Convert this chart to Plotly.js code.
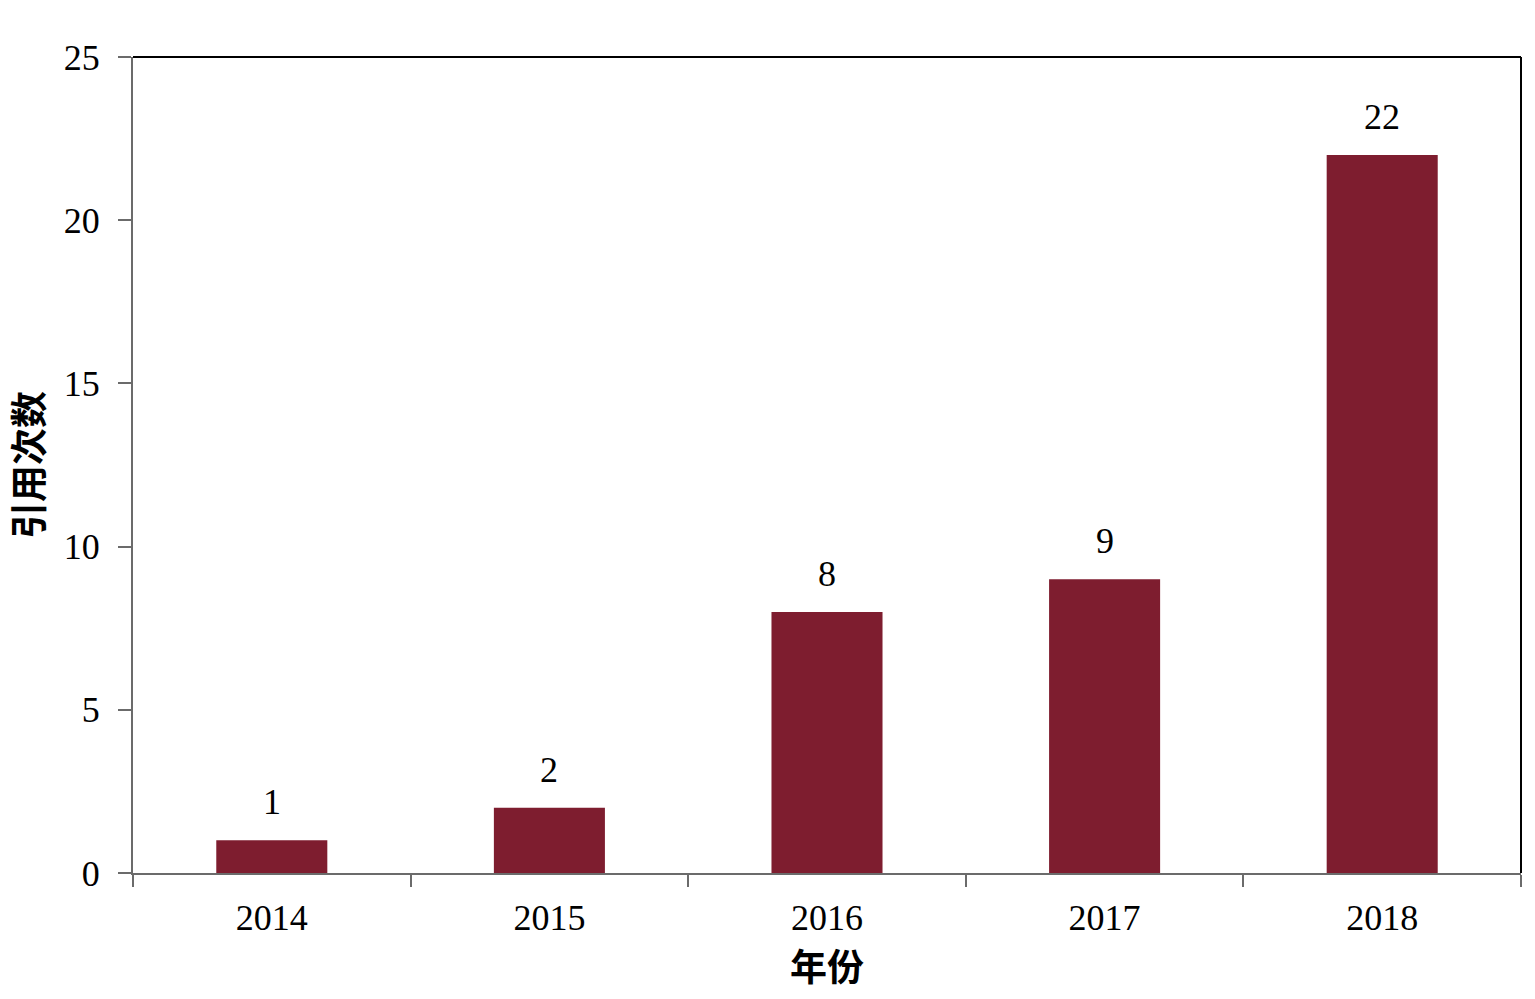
<!DOCTYPE html>
<html>
<head>
<meta charset="utf-8">
<script src="https://cdn.plot.ly/plotly-3.0.1.min.js"></script>
<style>
  html, body { margin: 0; padding: 0; background: #fff; }
  #chart { width: 1535px; height: 999px; }
</style>
</head>
<body>
<div id="chart"></div>
<script>
// citation counts per year
var years = ['2014', '2015', '2016', '2017', '2018'];
var citations = [1, 2, 8, 9, 22];

var serif = '"Liberation Serif", "Times New Roman", serif';
var cjk = '"Noto Sans CJK SC", sans-serif';

var trace = {
  type: 'bar',
  x: years,
  y: citations,
  width: 0.4,
  marker: { color: '#7E1D2F', line: { width: 0 } },
  hoverinfo: 'x+y'
};

// value labels sit well above each bar, as in the original
// (numeric-looking category names are read as indexes by annotations, so use the index)
var labels = years.map(function (yr, i) {
  return {
    x: i,
    y: citations[i],
    xref: 'x',
    yref: 'y',
    text: String(citations[i]),
    showarrow: false,
    yanchor: 'bottom',
    yshift: 16,
    font: { family: serif, size: 36, color: '#000' }
  };
});

var layout = {
  width: 1535,
  height: 999,
  margin: { l: 133, r: 14, t: 57, b: 126 },
  paper_bgcolor: '#fff',
  plot_bgcolor: '#fff',
  showlegend: false,
  xaxis: {
    type: 'category',
    range: [-0.5, years.length - 0.5],
    showline: true,
    linecolor: '#6b6b6b',
    linewidth: 2,
    ticks: 'outside',
    tickson: 'boundaries',
    ticklen: 12,
    tickwidth: 2,
    tickcolor: '#6b6b6b',
    ticklabelstandoff: 12,
    tickangle: 0,
    tickfont: { family: serif, size: 36, color: '#000' },
    showgrid: false,
    zeroline: false,
    title: { text: '<b>年份</b>', font: { family: cjk, size: 37, color: '#000' }, standoff: 16 }
  },
  yaxis: {
    range: [0, 25],
    dtick: 5,
    showline: true,
    linecolor: '#6b6b6b',
    linewidth: 2,
    ticks: 'outside',
    ticklen: 13,
    tickwidth: 2,
    tickcolor: '#6b6b6b',
    ticklabelstandoff: 11,
    tickfont: { family: serif, size: 36, color: '#000' },
    showgrid: false,
    zeroline: false,
    title: { text: '<b>引用次数</b>', font: { family: cjk, size: 37, color: '#000' }, standoff: 19 }
  },
  annotations: labels,
  shapes: [
    { type: 'line', xref: 'paper', yref: 'paper', x0: 0, x1: 1, y0: 1, y1: 1, line: { color: '#000', width: 2 } },
    { type: 'line', xref: 'paper', yref: 'paper', x0: 1, x1: 1, y0: 0, y1: 1, line: { color: '#000', width: 2 } }
  ]
};

Plotly.newPlot('chart', [trace], layout, { displayModeBar: false, staticPlot: true });
</script>
</body>
</html>
